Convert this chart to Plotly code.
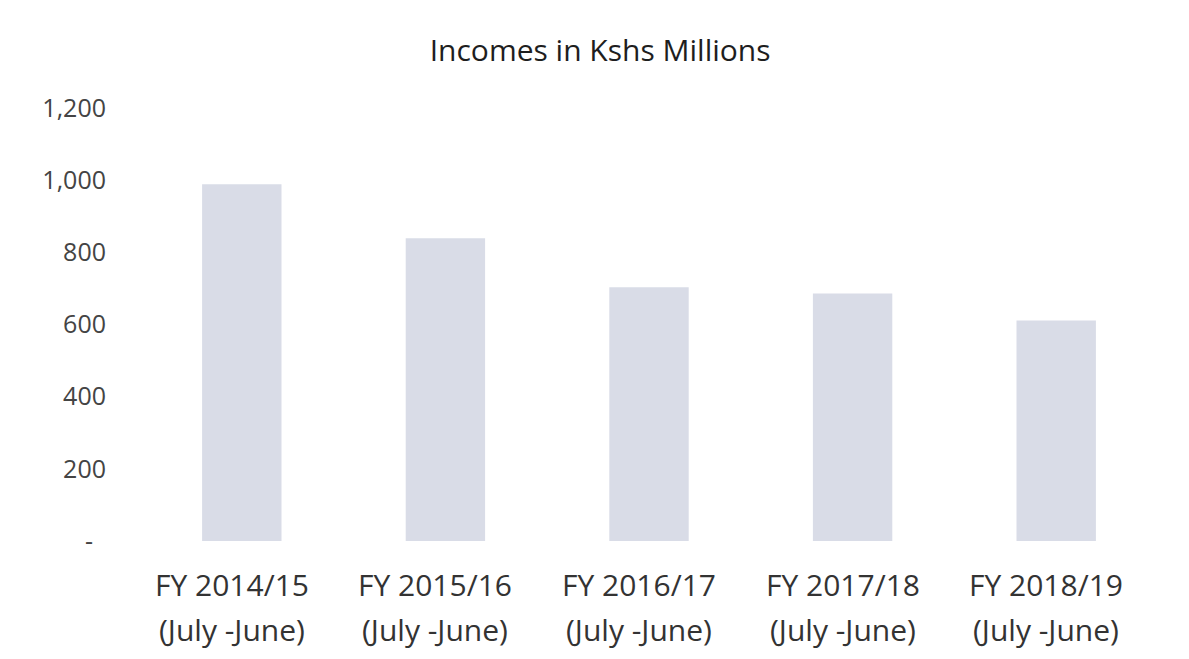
import plotly.graph_objects as go

FONT_FAMILY = "'Open Sans', Lato, sans-serif"

categories = ["FY 2014/15", "FY 2015/16", "FY 2016/17", "FY 2017/18", "FY 2018/19"]
periods = ["(July -June)", "(July -June)", "(July -June)", "(July -June)", "(July -June)"]
incomes = [989, 839, 703, 686, 611]

y_tickvals = [0, 200, 400, 600, 800, 1000, 1200]
y_ticktext = ["-\u00a0\u00a0", "200", "400", "600", "800", "1,000", "1,200"]

BAR_COLOR = "#d9dce7"
TEXT_COLOR = "#333333"

trace = go.Bar(
    x=categories,
    y=incomes,
    width=0.39,
    marker={"color": BAR_COLOR, "line": {"width": 0}},
    hoverinfo="x+y",
)

# two-line category labels, line spacing wider than plotly's tick labels allow
annotations = []
for cat, period in zip(categories, periods):
    annotations.append(
        dict(x=cat, y=0, xref="x", yref="paper", yanchor="middle",
             xshift=-10, yshift=-43,
             text=cat, showarrow=False,
             font={"family": FONT_FAMILY, "size": 30, "color": TEXT_COLOR})
    )
    annotations.append(
        dict(x=cat, y=0, xref="x", yref="paper", yanchor="middle",
             xshift=-10, yshift=-88,
             text=period, showarrow=False,
             font={"family": FONT_FAMILY, "size": 30, "color": TEXT_COLOR})
    )

layout = go.Layout(
    width=1189,
    height=659,
    margin={"l": 132, "r": 39, "t": 100, "b": 126},
    paper_bgcolor="white",
    plot_bgcolor="white",
    showlegend=False,
    title={
        "text": "Incomes in Kshs Millions",
        "x": 0.498,
        "xanchor": "center",
        "y": 0.936,
        "yanchor": "middle",
        "yref": "container",
        "font": {"family": FONT_FAMILY, "size": 30, "color": "#1e1e1e"},
    },
    xaxis={
        "showticklabels": False,
        "showgrid": False,
        "zeroline": False,
        "showline": False,
        "ticks": "",
    },
    yaxis={
        "range": [0, 1200],
        "tickvals": y_tickvals,
        "ticktext": y_ticktext,
        "showgrid": False,
        "zeroline": False,
        "showline": False,
        "ticks": "",
        "ticklabelstandoff": 33,
        "tickfont": {"family": FONT_FAMILY, "size": 25, "color": "#444444"},
    },
    annotations=annotations,
)

fig = go.Figure([trace], layout=layout)
fig.write_html("out.html")
